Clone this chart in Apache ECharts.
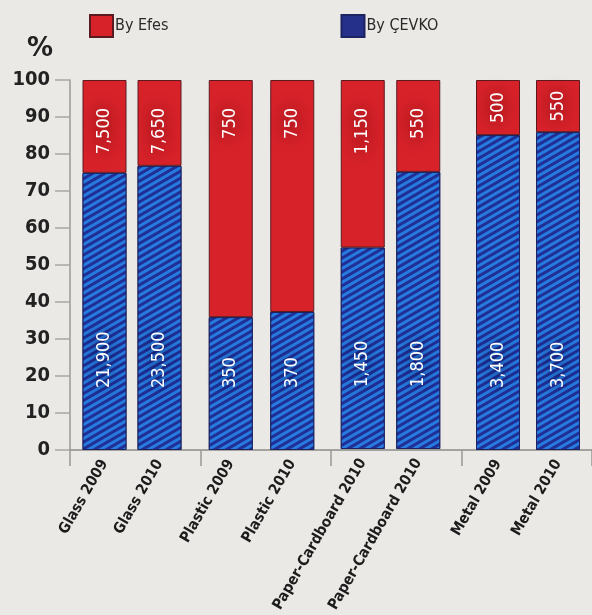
<!DOCTYPE html>
<html>
<head>
<meta charset="utf-8">
<script src="https://cdn.jsdelivr.net/npm/echarts@6/dist/echarts.min.js"></script>
<style>
html,body{margin:0;padding:0;background:#ebe9e5;}
#chart{width:592px;height:615px;}
</style>
</head>
<body>
<div id="chart"></div>
<script>
// ---- data ----
const materials = ['Glass','Plastic','Paper-Cardboard','Metal'];
const categories = ['Glass 2009','Glass 2010','Plastic 2009','Plastic 2010','Paper-Cardboard 2010','Paper-Cardboard 2010','Metal 2009','Metal 2010'];
const cevkoPct = [74.9, 76.8, 35.9, 37.3, 54.6, 75.1, 85.1, 85.9];
const efesPct  = [25.1, 23.2, 64.1, 62.7, 45.4, 24.9, 14.9, 14.1];
const cevkoLabels = ['21,900','23,500','350','370','1,450','1,800','3,400','3,700'];
const efesLabels  = ['7,500','7,650','750','750','1,150','550','500','550'];
const yTicks = [0,10,20,30,40,50,60,70,80,90,100];

// ---- layout ----
const FONT = "'DejaVu Sans Condensed','Liberation Sans Narrow','Liberation Sans',sans-serif";
const groups = [[0,2],[2,4],[4,6],[6,8]];
const gridBox = [[77,110],[200,123],[335,111],[468,120]];
const gridTop = 80, gridBottom = 165;

const grid = [], xAxis = [], yAxis = [], series = [];
groups.forEach(function(gr, g){
  grid.push({left: gridBox[g][0], width: gridBox[g][1], top: gridTop, bottom: gridBottom});
  xAxis.push({
    gridIndex: g, type: 'category', data: categories.slice(gr[0], gr[1]),
    axisLine: {show: false}, axisTick: {show: false},
    axisLabel: {rotate: 60, margin: 11, color: '#1c1c1c', fontFamily: FONT, fontWeight: 'bold', fontSize: 15, interval: 0}
  });
  yAxis.push({gridIndex: g, type: 'value', min: yTicks[0], max: yTicks[yTicks.length-1], interval: 10, show: false});
  const labelBase = {show: true, rotate: 90, color: '#fff', fontFamily: FONT, fontSize: 18, textShadowBlur: 16};
  const cevkoData = [], efesData = [];
  for (let i = gr[0]; i < gr[1]; i++) {
    cevkoData.push({value: cevkoPct[i], label: Object.assign({}, labelBase, {
      position: 'insideBottom', distance: 62, align: 'left', verticalAlign: 'middle',
      textShadowColor: 'rgba(5,5,40,1)', formatter: cevkoLabels[i]})});
    const small = efesPct[i] < 18;
    efesData.push({value: efesPct[i], label: Object.assign({}, labelBase, {textShadowColor: 'rgba(70,0,8,1)'}, small ? {
      position: 'inside', align: 'center', verticalAlign: 'middle', formatter: efesLabels[i]
    } : {
      position: 'insideTop', distance: 28, align: 'right', verticalAlign: 'middle', formatter: efesLabels[i]})});
  }
  series.push({
    name: 'By ÇEVKO', type: 'bar', stack: 's' + g, xAxisIndex: g, yAxisIndex: g,
    barWidth: 44, data: cevkoData,
    itemStyle: {color: '#1f2f96', borderColor: '#1d2260', borderWidth: 1,
      decal: {symbol: 'rect', symbolSize: 1, color: 'rgba(40,132,232,0.88)', dashArrayX: [1, 0], dashArrayY: [3, 3], rotation: -Math.PI / 6}}
  });
  series.push({
    name: 'By Efes', type: 'bar', stack: 's' + g, xAxisIndex: g, yAxisIndex: g,
    barWidth: 44, data: efesData,
    itemStyle: {color: '#d8222a', borderColor: '#5a1a20', borderWidth: 1}
  });
});

// frame grid: continuous axes with ticks between material groups
grid.push({left: 70, right: -3, top: gridTop, bottom: gridBottom, z: 0});
xAxis.push({
  gridIndex: 4, type: 'category', data: materials, z: 0,
  axisLine: {show: true, lineStyle: {color: '#8c8a86', width: 1.5}},
  axisTick: {show: true, length: 16, lineStyle: {color: '#9a9894', width: 1.5}},
  axisLabel: {show: false}
});
yAxis.push({
  gridIndex: 4, type: 'value', min: yTicks[0], max: yTicks[yTicks.length-1], interval: 10,
  splitLine: {show: false},
  axisLine: {show: true, lineStyle: {color: '#9a9894', width: 1.5}},
  axisTick: {show: true, length: 15, lineStyle: {color: '#a8a6a2', width: 1.5}},
  axisLabel: {margin: 20, color: '#222', fontFamily: FONT, fontWeight: 'bold', fontSize: 20}
});

const chart = echarts.init(document.getElementById('chart'));
chart.setOption({
  backgroundColor: '#ebe9e5',
  animation: false,
  title: {text: '%', left: 22, top: 31, textStyle: {fontFamily: "'DejaVu Sans',sans-serif", fontSize: 26, fontWeight: 'bold', color: '#222'}},
  legend: {
    data: [{name: 'By Efes', itemStyle: {color: '#d8222a', decal: 'none'}}, {name: 'By ÇEVKO', itemStyle: {color: '#25308a', decal: 'none'}}],
    left: 84, top: 9, itemWidth: 23, itemHeight: 22, itemGap: 172, icon: 'rect',
    textStyle: {fontFamily: FONT, fontSize: 16, color: '#2a2a2a', padding: [0,0,0,-3]}
  },
  grid: grid, xAxis: xAxis, yAxis: yAxis, series: series
});
</script>
</body>
</html>
